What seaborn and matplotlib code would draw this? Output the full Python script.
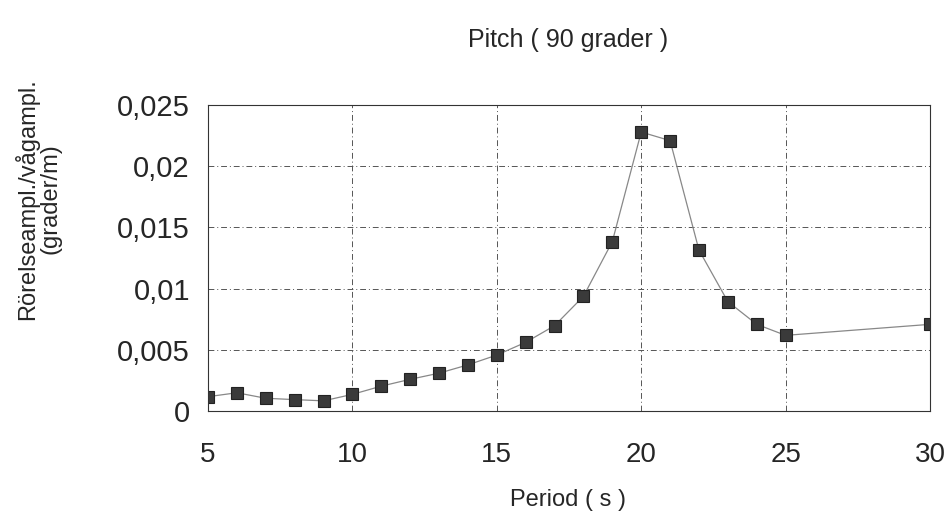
import matplotlib
matplotlib.use("Agg")
import matplotlib.pyplot as plt
import seaborn as sns
import pandas as pd

# Data
period = [5, 6, 7, 8, 9, 10, 11, 12, 13, 14, 15, 16, 17, 18, 19, 20, 21, 22, 23, 24, 25, 30]
ampl = [0.00117, 0.00149, 0.00104, 0.00093, 0.00083, 0.00136, 0.00203, 0.00259,
        0.00309, 0.00377, 0.00457, 0.00561, 0.00697, 0.00937, 0.01384, 0.02279,
        0.02209, 0.01315, 0.00894, 0.00708, 0.00618, 0.00708]
xticks = [5, 10, 15, 20, 25, 30]
yticks = [0, 0.005, 0.01, 0.015, 0.02, 0.025]
ytick_labels = ["0", "0,005", "0,01", "0,015", "0,02", "0,025"]

df = pd.DataFrame({"Period": period, "Ampl": ampl})

sns.set_style("white")
plt.rcParams["font.family"] = ["Liberation Sans", "DejaVu Sans"]

fig = plt.figure(figsize=(9.52, 5.24), dpi=100)
ax = fig.add_axes([208 / 952, 1 - 411 / 524, 722 / 952, 306 / 524])

sns.lineplot(x="Period", y="Ampl", data=df, ax=ax, color="#888888", linewidth=0.9,
             marker="s", markersize=8, markerfacecolor="#3a3a3a",
             markeredgecolor="#222222", markeredgewidth=0.8)

ax.set_xlim(5, 30)
ax.set_ylim(0, 0.025)
ax.set_xticks(xticks)
ax.set_yticks(yticks)
ax.set_yticklabels(ytick_labels)
ax.grid(True, color="#555555", linestyle=(0, (6, 3, 1, 3)), linewidth=0.7)
for s in ax.spines.values():
    s.set_color("#333333")
    s.set_linewidth(0.8)
ax.tick_params(axis="y", labelsize=21, pad=13, length=0)
ax.tick_params(axis="x", labelsize=20, pad=22, length=0)

ax.set_xlabel("")
ax.set_ylabel("")
fig.text(568 / 952, 1 - 40 / 524, "Pitch ( 90 grader )", ha="center", va="center", fontsize=18)
fig.text(568 / 952, 1 - 500 / 524, "Period ( s )", ha="center", va="center", fontsize=17)
fig.text(38 / 952, 1 - 199 / 524, "Rörelseampl./vågampl.\n(grader/m)", ha="center", va="center",
         rotation=90, fontsize=17, linespacing=1.0)

fig.savefig("out.png", dpi=100)
